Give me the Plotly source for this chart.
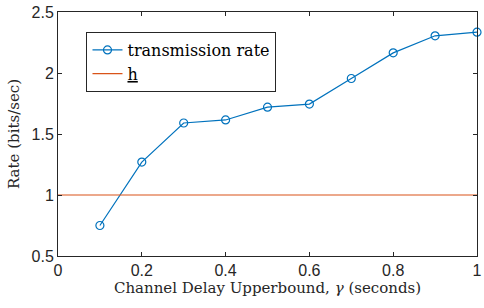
import plotly.graph_objects as go

delay = [0.1, 0.2, 0.3, 0.4, 0.5, 0.6, 0.7, 0.8, 0.9, 1.0]
rate = [0.75, 1.27, 1.59, 1.615, 1.72, 1.745, 1.955, 2.165, 2.305, 2.335]
h_x = [0, 1]
h_val = [1, 1]
x_ticks = [0, 0.2, 0.4, 0.6, 0.8, 1]
x_ticklabels = ["0", "0.2", "0.4", "0.6", "0.8", "1"]
y_ticks = [0.5, 1, 1.5, 2, 2.5]
y_ticklabels = ["0.5", "1", "1.5", "2", "2.5"]

serif = "DejaVu Serif, serif"
sans = "Liberation Sans, Arial, sans-serif"

fig = go.Figure()
fig.add_trace(go.Scatter(
    x=delay, y=rate, mode="lines+markers", name="transmission rate",
    line=dict(color="#0072BD", width=1.2),
    marker=dict(symbol="circle-open", size=8, color="#0072BD", line=dict(width=1.2)),
    cliponaxis=False,
))
fig.add_trace(go.Scatter(
    x=h_x, y=h_val, mode="lines", name="<u>h</u>",
    line=dict(color="#D95319", width=1.2),
))

axis_common = dict(
    showline=True, linecolor="#262626", linewidth=1, mirror="ticks",
    ticks="inside", ticklen=4, tickcolor="#262626", showgrid=False, zeroline=False,
    tickfont=dict(family=sans, size=16, color="#262626"),
    ticklabeloverflow="allow",
)
fig.update_xaxes(range=[0, 1], tickvals=x_ticks, ticktext=x_ticklabels,
                 title=dict(text="Channel Delay Upperbound, <i>γ</i> (seconds)",
                            font=dict(family=serif, size=15, color="#262626"), standoff=2),
                 **axis_common)
fig.update_yaxes(range=[0.5, 2.5], tickvals=y_ticks, ticktext=y_ticklabels,
                 title=dict(text="Rate (bits/sec)",
                            font=dict(family=serif, size=15, color="#262626"), standoff=8),
                 **axis_common)

fig.update_layout(
    width=484, height=308,
    margin=dict(l=58, r=2, t=12, b=52),
    paper_bgcolor="white", plot_bgcolor="white",
    showlegend=True,
    legend=dict(x=0.068, y=0.918, xanchor="left", yanchor="top",
                bordercolor="#262626", borderwidth=1, bgcolor="white",
                font=dict(family=serif, size=16, color="#000000"),
                tracegroupgap=0, itemwidth=30),
)

fig.write_html("out.html", config={"displayModeBar": False},
               post_script="document.body.style.margin='0';")
